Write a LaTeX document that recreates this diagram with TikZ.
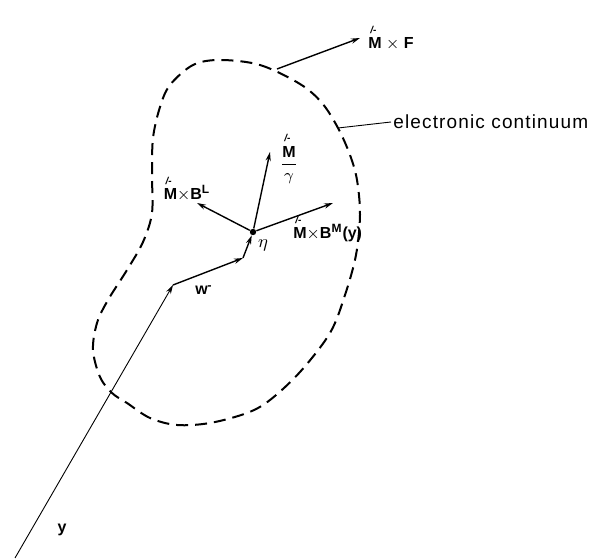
\documentclass[tikz,border=0pt]{standalone}
\usepackage{amsmath}
\usepackage{fontspec}
\setmainfont{Liberation Sans}
\newfontfamily\lettering[LetterSpace=6]{Liberation Sans}
\usepackage{tikz}
\usetikzlibrary{arrows.meta,positioning}
\newcommand{\Mv}{{\rlap{\raisebox{1.8ex}{\kern0.12em\fontsize{5}{5}\selectfont\itshape/-}}M}}

\begin{document}
\begin{tikzpicture}[
    x=0.5pt, y=-0.5pt,
    vec/.style={-{Stealth[length=4.5pt,width=2.6pt]}, line width=0.7pt},
    thinvec/.style={-{Stealth[length=4.5pt,width=2.6pt]}, line width=0.45pt},
    blob/.style={line width=1pt, dash pattern=on 6pt off 3.5pt},
    lbl/.style={font=\bfseries\fontsize{8}{9}\selectfont, inner sep=1pt},
    leader/.style={line width=0.45pt}
]
  \useasboundingbox (0,0) rectangle (595,560);

  % electronic continuum
  \draw [blob] plot[smooth cycle, tension=0.55] coordinates {
    (220,60) (260,65) (300,84) (322,103) (338,128) (350,155) (357,180)
    (360,215) (356,255) (345,295) (330,333) (300,372) (270,400) (247,413)
    (210,423) (177,425) (150,418) (127,403) (112,393) (100,377) (93,350)
    (97,323) (108,300) (127,270) (143,242) (152,213) (152,175) (153,138)
    (160,107) (170,85) (193,65)};

  % Coordinates
  \coordinate (O) at (15,558);
  \coordinate (Y) at (173,285);
  \coordinate (W) at (243,258);
  \coordinate (sF) at (277,69);
  \coordinate (tF) at (360,38);
  \coordinate (tL) at (197,203);
  \coordinate (tG) at (270,152);
  \coordinate (tM) at (333,203);
  \coordinate (edge) at (338,128);

  % Nodes
  \node (eta) [circle, fill=black, inner sep=0pt, minimum size=3.2pt] at (253,232) {};
  \node (etalbl) [lbl, font=\fontsize{9}{9}\selectfont] at (263,245) {$\eta$};
  \node (ylbl) [lbl] at (62,530) {y};
  \node (wlbl) [lbl] at (204,290) {w\textsuperscript{-}};
  \node (F) [lbl, anchor=west] at (366,38) {\Mv\ $\times$ F};
  \node (BL) [lbl] at (187,189) {\Mv$\times$B\textsuperscript{L}};
  \node (gam) [lbl, inner sep=0pt] at (289,159) {$\dfrac{\text{\Mv}}{\gamma}$};
  \node (BM) [lbl, anchor=west] at (291,229) {\Mv$\times$B\textsuperscript{M}(y)};
  \node (cont) [anchor=west, inner sep=1pt, font=\lettering\fontsize{9.5}{10}\selectfont] at (391,122) {electronic continuum};

  % Arrows
  \draw [thinvec] (O) -- (Y);
  \draw [vec] (Y) -- (W);
  \draw [vec] (W) -- (eta);
  \draw [vec] (eta) -- (tL);
  \draw [vec] (eta) -- (tG);
  \draw [vec] (eta) -- (tM);
  \draw [vec] (sF) -- (tF);
  \draw [leader] (edge) -- (cont.west);
\end{tikzpicture}
\end{document}
